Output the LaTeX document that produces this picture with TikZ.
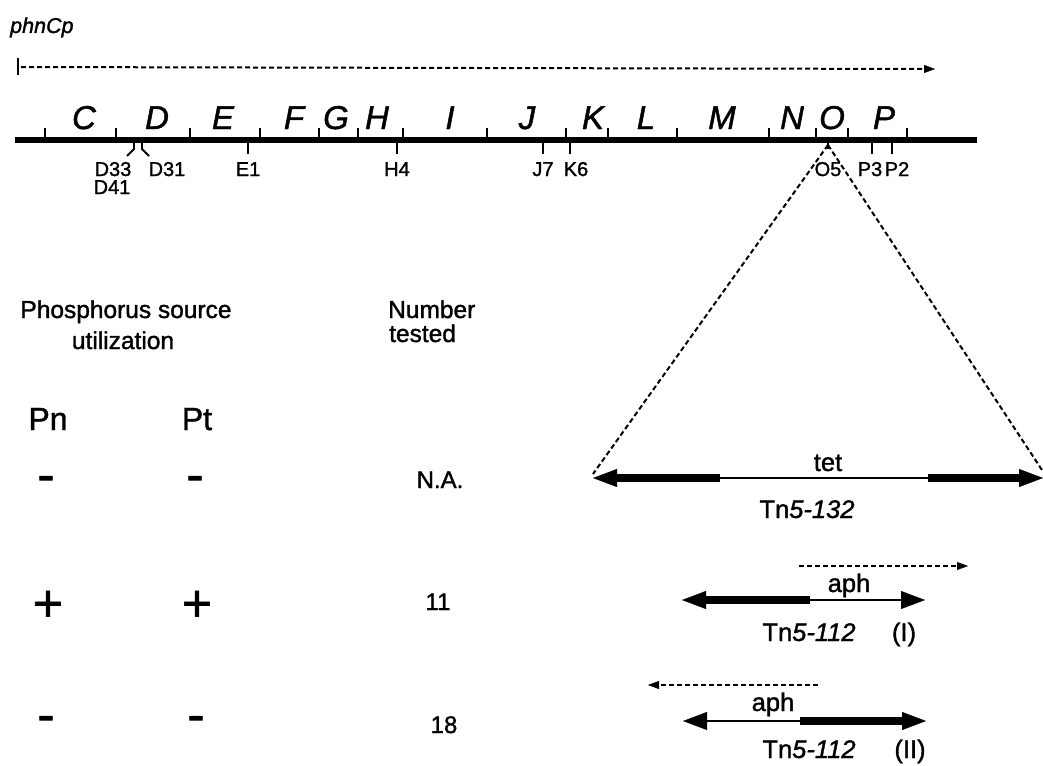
\documentclass[tikz,border=0pt]{standalone}
\usepackage{fontspec}
\setmainfont{Liberation Sans}[FakeBold=1.4]
\usetikzlibrary{arrows.meta}

\newcommand{\fsz}[1]{\fontsize{#1}{#1}\selectfont}

\tikzset{
  txt/.style={inner sep=0pt, anchor=base},
  gene/.style={txt, font=\fsz{33}\itshape},
  site/.style={txt, font=\fsz{20}},
  heading/.style={txt, font=\fsz{24.5}},
  sign/.style={txt, font=\fsz{52}},
  colhead/.style={txt, font=\fsz{32}},
  count/.style={txt, font=\fsz{24}},
  tnlab/.style={txt, font=\fsz{25.5}},
  chrom/.style={line width=5.5pt},
  tickmark/.style={line width=1.8pt},
  dashline/.style={line width=2pt, dash pattern=on 5pt off 3pt},
  thickseg/.style={line width=8pt},
  thinseg/.style={line width=1.8pt},
  bigtip/.style={-{Triangle[length=24pt,width=18pt,line width=0.4pt]}},
  smalltip/.style={-{Triangle[length=11pt,width=8pt,line width=0.4pt]}},
}

\begin{document}
\begin{tikzpicture}[x=1pt,y=-1pt]
\useasboundingbox (0,0) rectangle (1043,765);

% ---------- promoter and transcript ----------
\node[txt, anchor=base west, font=\fsz{21.5}\itshape] (prom) at (10,33) {phnCp};
\coordinate (pbT) at (18,58);
\coordinate (pbB) at (18,75);
\draw[tickmark] (pbT) -- (pbB);
\coordinate (trS) at (21,67);
\coordinate (trE) at (935,69);
\draw[dashline, smalltip] (trS) -- (trE);

% ---------- chromosome ----------
\coordinate (chL) at (15,140);
\coordinate (chR) at (977,140);
\draw[chrom] (chL) -- (chR);

% gene boundaries
\foreach \x in {45,116,190,260,319,358,403,487,566,608,677,769,816,848,907}
  \draw[tickmark] (\x,140) -- (\x,128);

% gene names
\foreach \x/\g in {84/C,157/D,223/E,294/F,336/G,377/H,450/I,527/J,593/K,646/L,722/M,792/N,832/O,884/P}
  \node[gene] (g\g) at (\x,129) {\g};

% insertion sites
\foreach \x in {248,397,543,570,872,892}
  \draw[tickmark] (\x,140) -- (\x,154);
\draw[tickmark] (828,140) -- (828,149);
\draw[tickmark, line join=miter] (134,140) -- (134,149) -- (127,156);
\draw[tickmark, line join=miter] (142,140) -- (142,149) -- (149,156);

\node[site] (d33) at (113,176) {D33};
\node[site] (d41) at (112,194) {D41};
\node[site] (d31) at (167,176) {D31};
\node[site] (e1)  at (248,176) {E1};
\node[site] (h4)  at (397,176) {H4};
\node[site] (j7)  at (543,176) {J7};
\node[site] (k6)  at (576,176) {K6};
\node[site] (o5)  at (828,176) {O5};
\node[site] (p3)  at (870,176) {P3};
\node[site] (p2)  at (897,176) {P2};

% ---------- expanded insertion ----------
\coordinate (apex) at (828,145);
\coordinate (fanL) at (593,474);
\coordinate (fanR) at (1042,470);
\draw[dashline] (apex) -- (fanL);
\draw[dashline] (apex) -- (fanR);

% Tn5-132
\coordinate (aL) at (593,478);
\coordinate (aM1) at (720,478);
\coordinate (aM2) at (928,478);
\coordinate (aR) at (1043,478);
\draw[thickseg, bigtip] (aM1) -- (aL);
\draw[thinseg] (aM1) -- (aM2);
\draw[thickseg, bigtip] (aM2) -- (aR);
\node[tnlab] (tet) at (828,471) {tet};
\node[tnlab] (tn132) at (807,518) {Tn\textit{5-132}};

% Tn5-112 (I)
\coordinate (bL) at (682,600);
\coordinate (bM) at (810,600);
\coordinate (bR) at (925,600);
\draw[thickseg, bigtip] (bM) -- (bL);
\draw[thinseg, bigtip] (bM) -- (bR);
\coordinate (bdS) at (799,566);
\coordinate (bdE) at (968,566);
\draw[dashline, smalltip] (bdS) -- (bdE);
\node[tnlab] (aphI) at (849,592) {aph};
\node[tnlab] (tnI) at (809,641) {Tn\textit{5-112}};
\node[tnlab] (labI) at (904,641) {(I)};

% Tn5-112 (II)
\coordinate (cL) at (683,721);
\coordinate (cM) at (800,721);
\coordinate (cR) at (926,721);
\draw[thinseg, bigtip] (cM) -- (cL);
\draw[thickseg, bigtip] (cM) -- (cR);
\coordinate (cdS) at (818,685);
\coordinate (cdE) at (648,685);
\draw[dashline, smalltip] (cdS) -- (cdE);
\node[tnlab] (aphII) at (773,711) {aph};
\node[tnlab] (tnII) at (809,758) {Tn\textit{5-112}};
\node[tnlab] (labII) at (910,758) {(II)};

% ---------- table ----------
\node[heading] (h1) at (126,318) {Phosphorus source};
\node[heading] (h2) at (123,349) {utilization};
\node[heading, anchor=base west] (h3) at (388,318) {Number};
\node[heading, anchor=base west] (h4t) at (389,342) {tested};

\node[colhead] (pn) at (48,430) {Pn};
\node[colhead] (pt) at (197,430) {Pt};

\node[sign] (r1a) at (46,492) {-};
\node[sign] (r1b) at (195,492) {-};
\node[count] (r1c) at (440,488) {N.A.};

\node[sign] (r2a) at (48,621) {+};
\node[sign] (r2b) at (197,621) {+};
\node[count] (r2c) at (438,610) {11};

\node[sign] (r3a) at (46,732) {-};
\node[sign] (r3b) at (196,732) {-};
\node[count] (r3c) at (444,733) {18};
\end{tikzpicture}
\end{document}
